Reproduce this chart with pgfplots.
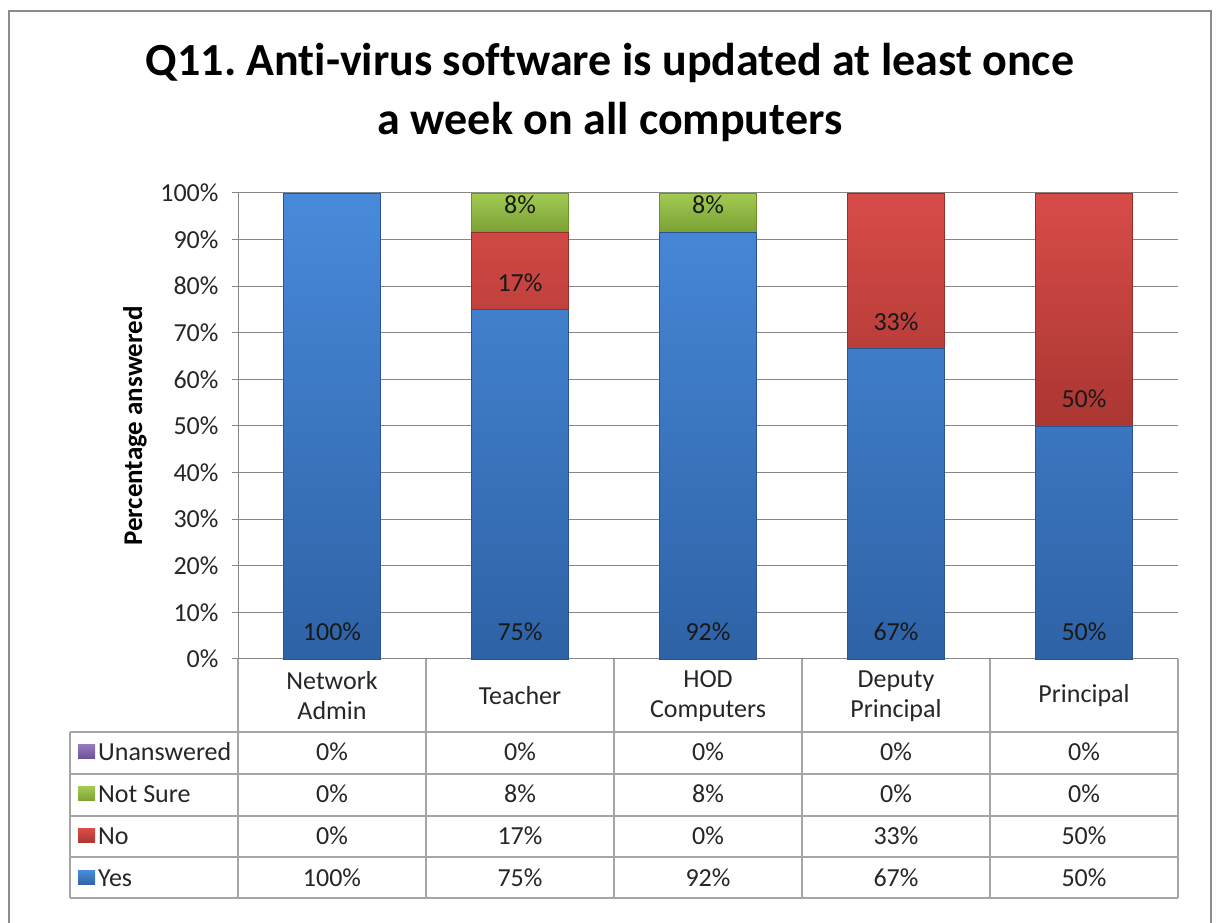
\documentclass[border=0pt]{standalone}
\usepackage{fontspec}
\setmainfont{Carlito}[Ligatures=NoCommon]
\usepackage{pgfplots}
\pgfplotsset{compat=1.18}
\usepackage{pgfplotstable}

\definecolor{framec}{RGB}{140,140,140}
\definecolor{gridc}{RGB}{134,134,134}
\definecolor{tabc}{RGB}{165,165,165}
\definecolor{blueT}{RGB}{72,138,218}
\definecolor{blueB}{RGB}{46,98,166}
\definecolor{blueE}{RGB}{40,85,145}
\definecolor{redT}{RGB}{216,76,72}
\definecolor{redB}{RGB}{170,54,50}
\definecolor{redE}{RGB}{150,45,42}
\definecolor{grnT}{RGB}{162,202,82}
\definecolor{grnB}{RGB}{124,162,54}
\definecolor{grnE}{RGB}{110,145,45}
\definecolor{purT}{RGB}{150,120,190}
\definecolor{purB}{RGB}{110,80,150}

\pgfplotstableread{
x yes no ns un
0 100 0 0 0
1 75 16.67 8.33 0
2 91.67 0 8.33 0
3 66.67 33.33 0 0
4 50 50 0 0
}\data

\newcommand{\tf}{\fontsize{26}{30}\selectfont}

\begin{document}
\frenchspacing
\begin{tikzpicture}[x=1pt,y=1pt]
\useasboundingbox (0,0) rectangle (1218,923);
% outer frame
\draw[framec, line width=2.5pt] (9,-10) -- (9,912) -- (1211,912) -- (1211,-10);
% title
\node[anchor=base, inner sep=0pt, font=\fontsize{46}{50}\selectfont\bfseries] at (610,923-76) {Q11. Anti-virus software is updated at least once};
\node[anchor=base, inner sep=0pt, font=\fontsize{46}{50}\selectfont\bfseries] at (610,923-135) {a week on all computers};

\pgfplotsset{geom/.style={
  at={(238pt,264pt)}, anchor=south west,
  scale only axis, width=940pt, height=466pt,
  xmin=-0.5, xmax=4.5, ymin=0, ymax=100, clip=false}}

\begin{axis}[geom,
  ybar stacked, bar width=97pt,
  axis x line=none,
  axis y line*=left,
  axis line style={gridc, line width=1pt, -},
  ymajorgrids, grid style={gridc, line width=1pt},
  ytick={0,10,...,100},
  yticklabel={\pgfmathprintnumber{\tick}\%},
  tick align=outside, major tick length=6pt,
  tick style={gridc, line width=1pt},
  yticklabel style={font=\tf, text=black!85, xshift=-10pt},
  /pgf/number format/assume math mode=true,
  ylabel={\bfseries Percentage answered},
  ylabel style={font=\fontsize{27}{30}\selectfont, at={(axis description cs:-0.1096,0.5)}, anchor=center},
]
\addplot[top color=blueT, bottom color=blueB, draw=blueE, line width=0.5pt] table[x=x,y=yes]{\data};
\addplot[top color=redT, bottom color=redB, draw=redE, line width=0.5pt] table[x=x,y=no]{\data};
\addplot[top color=grnT, bottom color=grnB, draw=grnE, line width=0.5pt] table[x=x,y=ns]{\data};
\addplot[top color=purT, bottom color=purB, draw=none] table[x=x,y=un]{\data};
\end{axis}

% data labels (inside base of each segment)
\begin{axis}[geom, hide axis]
\addplot[draw=none, mark=none, nodes near coords, point meta=explicit symbolic,
  every node near coord/.style={font=\tf, anchor=center, yshift=27pt, text=black!90}]
  coordinates {(0,0) [100\%] (1,0) [75\%] (2,0) [92\%] (3,0) [67\%] (4,0) [50\%]
               (1,75) [17\%] (3,66.67) [33\%] (4,50) [50\%]
               (1,91.67) [8\%] (2,91.67) [8\%]};
\end{axis}

% data table
\begin{scope}[tabc, line width=1.2pt]
  \draw (238,923-659) -- (238,923-898);
  \foreach \xx in {426,614,802,990,1178} \draw (\xx,923-659) -- (\xx,923-898);
  \draw (70,923-732) -- (70,923-898);
  \foreach \yy in {732,774,816,857,898} \draw (70,923-\yy) -- (1178,923-\yy);
\end{scope}
% header row
\foreach \cx/\lab in {332/{Network\\Admin},520/{Teacher},708/{HOD\\Computers},896/{Deputy\\Principal},1084/{Principal}}
  \node[font=\tf, align=center, text=black!85] at (\cx,923-696) {\lab};
% row legend keys and names
\foreach \ry/\lab/\ct/\cb in {752/Unanswered/purT/purB,794/Not Sure/grnT/grnB,836/No/redT/redB,878/Yes/blueT/blueB}{
  \shade[top color=\ct, bottom color=\cb] (78,923-\ry-7) rectangle (95,923-\ry+7);
  \node[font=\tf, anchor=west, inner sep=0pt, text=black!85] at (98,923-\ry) {\lab};
}
% row values
\foreach \ry/\a/\b/\c/\d/\e in {752/0/0/0/0/0,794/0/8/8/0/0,836/0/17/0/33/50,878/100/75/92/67/50}{
  \node[font=\tf, text=black!85] at (332,923-\ry) {\a\%};
  \node[font=\tf, text=black!85] at (520,923-\ry) {\b\%};
  \node[font=\tf, text=black!85] at (708,923-\ry) {\c\%};
  \node[font=\tf, text=black!85] at (896,923-\ry) {\d\%};
  \node[font=\tf, text=black!85] at (1084,923-\ry) {\e\%};
}
\end{tikzpicture}
\end{document}
